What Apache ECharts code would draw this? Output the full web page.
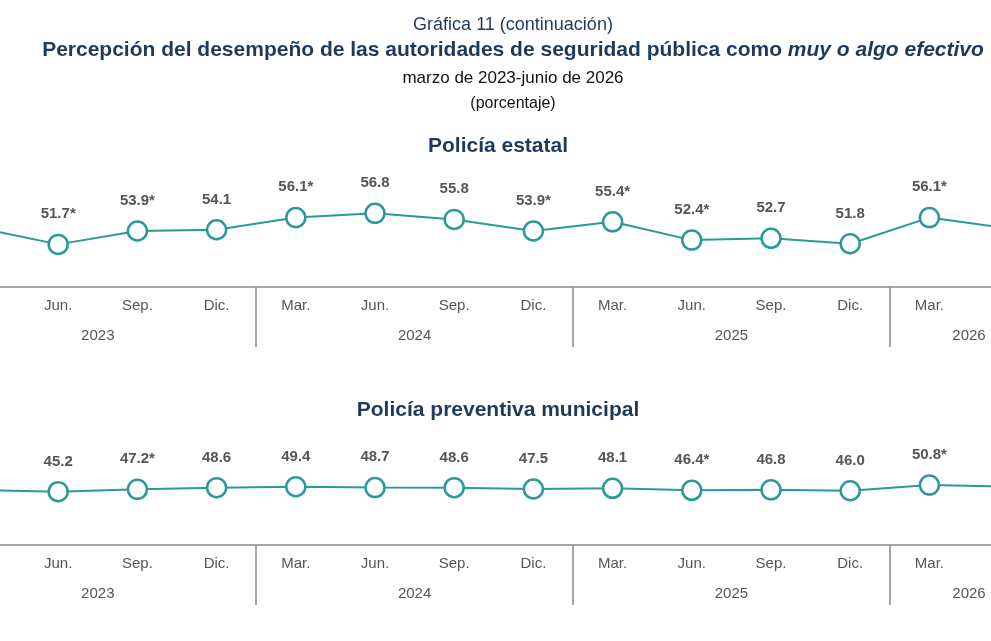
<!DOCTYPE html><html><head><meta charset="utf-8">
<script src="https://cdn.jsdelivr.net/npm/echarts@6/dist/echarts.min.js"></script>
<style>html,body{margin:0;padding:0;background:#fff}#c{width:991px;height:641px}</style></head>
<body><div id="c"></div><script>
const months=['Mar.','Jun.','Sep.','Dic.','Mar.','Jun.','Sep.','Dic.','Mar.','Jun.','Sep.','Dic.','Mar.','Jun.'];
const years={2:'2023',6:'2024',10:'2025',13:'2026'};
const estatal=[54.4,51.7,53.9,54.1,56.1,56.8,55.8,53.9,55.4,52.4,52.7,51.8,56.1,54.3];
const estatalLbl=['54.4','51.7*','53.9*','54.1','56.1*','56.8','55.8','53.9*','55.4*','52.4*','52.7','51.8','56.1*','54.3*'];
const municipal=[46.7,45.2,47.2,48.6,49.4,48.7,48.6,47.5,48.1,46.4,46.8,46.0,50.8,49.6];
const municipalLbl=['46.7','45.2','47.2*','48.6','49.4','48.7','48.6','47.5','48.1','46.4*','46.8','46.0','50.8*','49.6'];
const C='#2a9a94', N='#1d3a5c', G='#555';
const ch=echarts.init(document.getElementById('c'));
const grids=[{left:-60.6,width:1108.8,top:150,height:137,outerBoundsMode:'none',containLabel:false},
             {left:-60.6,width:1108.8,top:420,height:125,outerBoundsMode:'none',containLabel:false}];
function xAxes(g){return [
 {type:'category',gridIndex:g,data:months,boundaryGap:true,axisLine:{lineStyle:{color:'#888',width:1.5}},
  axisTick:{show:true,length:60,interval:(i)=>i%4===0,lineStyle:{color:'#888',width:1.5}},
  axisLabel:{interval:0,color:G,fontSize:15,margin:11,fontFamily:'Liberation Sans'}},
 {type:'value',gridIndex:g,min:0,max:14,interval:1,position:'bottom',axisLine:{show:false},axisTick:{show:false},splitLine:{show:false},
  axisLabel:{color:G,fontSize:15,margin:41,fontFamily:'Liberation Sans',formatter:v=>years[v]||''}}];}
function ser(g,data,lbl){return {type:'line',xAxisIndex:g*2,yAxisIndex:g,data:data,symbol:'circle',symbolSize:19,
 lineStyle:{color:C,width:2},itemStyle:{color:'#fff',borderColor:C,borderWidth:2.5},
 label:{show:true,position:'top',distance:12,color:G,fontWeight:'bold',fontSize:15,fontFamily:'Liberation Sans',formatter:p=>lbl[p.dataIndex]}};}
ch.setOption({animation:false,
 title:[
  {text:'Gráfica 11 (continuación)',left:508,top:11,textAlign:'center',textStyle:{color:N,fontSize:18,fontWeight:'normal',fontFamily:'Liberation Sans'}},
  {text:'{b|Percepción del desempeño de las autoridades de seguridad pública como }{i|muy o algo efectivo}',left:508,top:35,textAlign:'center',
   textStyle:{rich:{b:{color:N,fontSize:21,fontWeight:'bold',fontFamily:'Liberation Sans'},i:{color:N,fontSize:21,fontWeight:'bold',fontStyle:'italic',fontFamily:'Liberation Sans'}}}},
  {text:'marzo de 2023-junio de 2026',left:508,top:65,textAlign:'center',textStyle:{color:'#111',fontSize:17,fontWeight:'normal',fontFamily:'Liberation Sans'}},
  {text:'(porcentaje)',left:508,top:91,textAlign:'center',textStyle:{color:'#111',fontSize:16,fontWeight:'normal',fontFamily:'Liberation Sans'}},
  {text:'Policía estatal',left:493,top:131,textAlign:'center',textStyle:{color:N,fontSize:21,fontWeight:'bold',fontFamily:'Liberation Sans'}},
  {text:'Policía preventiva municipal',left:493,top:395,textAlign:'center',textStyle:{color:N,fontSize:21,fontWeight:'bold',fontFamily:'Liberation Sans'}}],
 grid:grids,
 xAxis:[...xAxes(0),...xAxes(1)],
 yAxis:[{type:'value',gridIndex:0,min:44.7,max:67.2,show:false},{type:'value',gridIndex:1,min:0,max:106,show:false}],
 series:[ser(0,estatal,estatalLbl),ser(1,municipal,municipalLbl)]});
</script></body></html>
